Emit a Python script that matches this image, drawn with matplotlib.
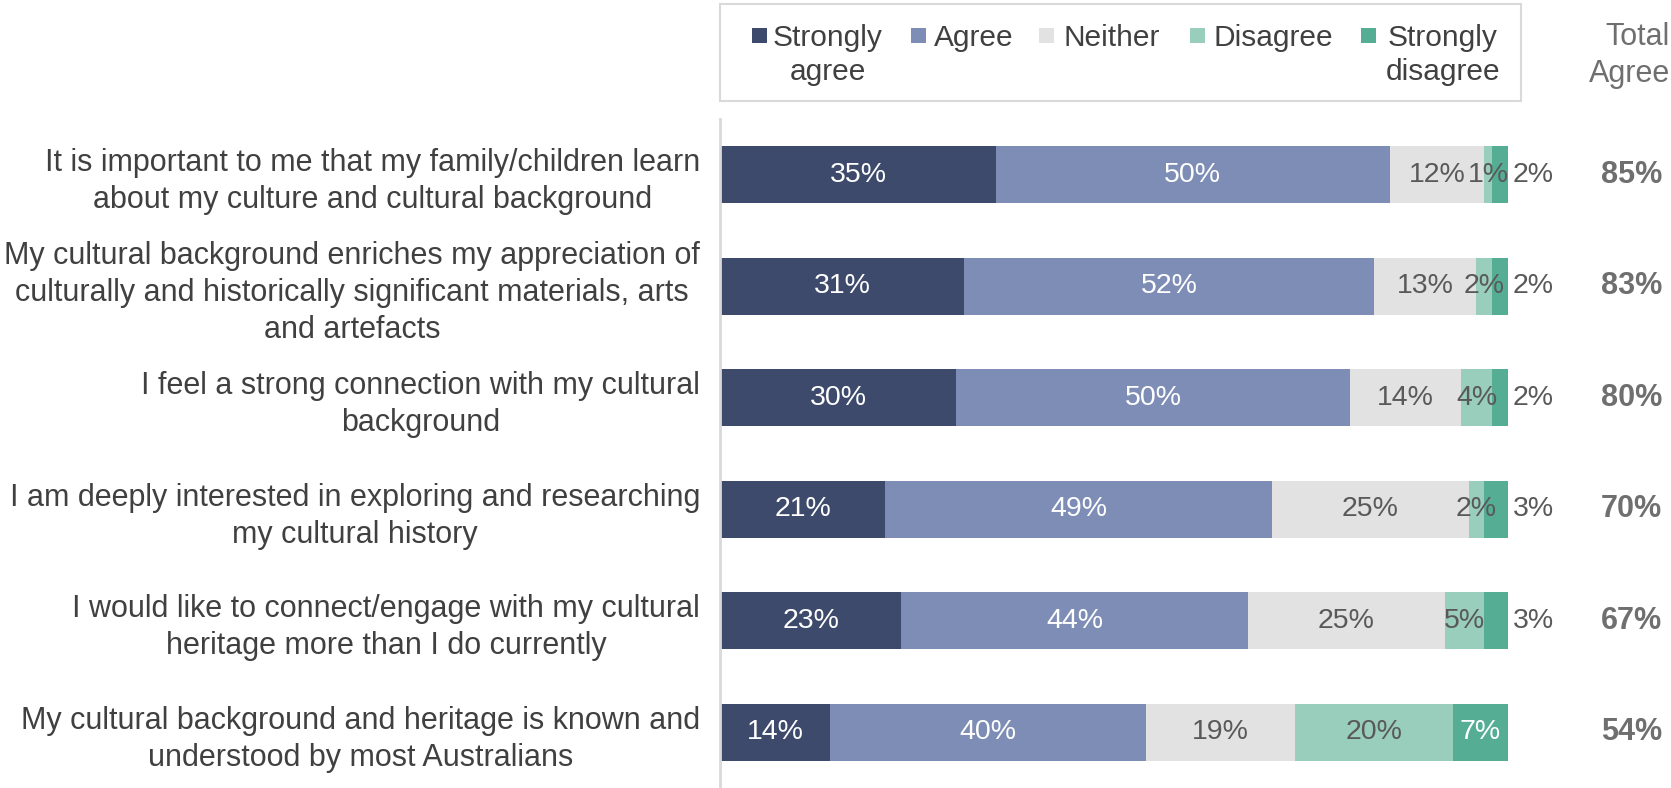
import numpy as np
import matplotlib
matplotlib.use("Agg")
import matplotlib.pyplot as plt
from matplotlib.patches import Rectangle
from matplotlib.transforms import blended_transform_factory

statements = [
    "It is important to me that my family/children learn\nabout my culture and cultural background",
    "My cultural background enriches my appreciation of\nculturally and historically significant materials, arts\nand artefacts",
    "I feel a strong connection with my cultural\nbackground",
    "I am deeply interested in exploring and researching\nmy cultural history",
    "I would like to connect/engage with my cultural\nheritage more than I do currently",
    "My cultural background and heritage is known and\nunderstood by most Australians",
]
categories = ["Strongly\nagree", "Agree", "Neither", "Disagree", "Strongly\ndisagree"]
strongly_agree = [35, 31, 30, 21, 23, 14]
agree = [50, 52, 50, 49, 44, 40]
neither = [12, 13, 14, 25, 25, 19]
disagree = [1, 2, 4, 2, 5, 20]
strongly_disagree = [2, 2, 2, 3, 3, 7]
total_agree = [85, 83, 80, 70, 67, 54]

colors = ["#3d4a6b", "#7d8db5", "#e2e2e2", "#99cdbc", "#55ae94"]
txt_colors = ["white", "white", "#595959", "#595959", "white"]

lab = ["Liberation Sans", "DejaVu Sans"]

W, H = 1671, 788
fig = plt.figure(figsize=(W / 100, H / 100), dpi=100)
ax = fig.add_axes([720 / W, 0, 788 / W, 1 - 119 / H])

series = [strongly_agree, agree, neither, disagree, strongly_disagree]
y = np.arange(len(statements))
left = np.zeros(len(statements))
for k, vals in enumerate(series):
    vals = np.array(vals, dtype=float)
    ax.barh(y, vals, left=left, height=0.515, color=colors[k], edgecolor="none")
    for i, v in enumerate(vals):
        if k == 4 and v <= 3:
            ax.text(100.6, y[i], "%d%%" % v, ha="left", va="center",
                    fontsize=20.5, color="#595959", family=lab)
        else:
            ax.text(left[i] + v / 2, y[i], "%d%%" % v, ha="center", va="center",
                    fontsize=20.5, color=txt_colors[k], family=lab)
    left += vals

ax.set_xlim(0, 100)
ax.set_ylim(5.5, -0.5)
ax.set_yticks(y)
ax.set_yticklabels(statements, family=lab, fontsize=22, color="#404040",
                   ha="right", multialignment="center", linespacing=1.3)
ax.tick_params(axis="y", length=0, pad=14.4)
ax.set_xticks([])
for s in ["top", "right", "bottom"]:
    ax.spines[s].set_visible(False)
ax.spines["left"].set_color("#d9d9d9")
ax.spines["left"].set_linewidth(2)

# total agree column
tr = blended_transform_factory(fig.transFigure, ax.transData)
for i, t in enumerate(total_agree):
    ax.text(1662 / W, y[i], "%d%%" % t, transform=tr,
            ha="right", va="center", fontsize=22, color="#6f6f6f", family=lab, fontweight="bold")
fig.text(1670 / W, 1 - 37 / H, "Total", ha="right", va="center", fontsize=22,
         color="#6f6f6f", family=lab)
fig.text(1670 / W, 1 - 74 / H, "Agree", ha="right", va="center", fontsize=22,
         color="#6f6f6f", family=lab)

# legend box
fig.patches.append(Rectangle((720 / W, 1 - 101 / H), 801 / W, 97 / H, transform=fig.transFigure,
                             facecolor="white", edgecolor="#d9d9d9", linewidth=1.5))
sq_x = [752, 911, 1039, 1190, 1361]
tx_x = [828, 934, 1064, 1213, 1443]
for k, cat in enumerate(categories):
    fig.patches.append(Rectangle((sq_x[k] / W, 1 - 43 / H), 15 / W, 15 / H, transform=fig.transFigure,
                                 facecolor=colors[k], edgecolor="none"))
    if "\n" in cat:
        fig.text(tx_x[k] / W, 1 - 55 / H, cat, ha="center", va="center", fontsize=21.5,
                 color="#404040", family=lab, multialignment="center", linespacing=1.3)
    else:
        fig.text(tx_x[k] / W, 1 - 38 / H, cat, ha="left", va="center", fontsize=21.5,
                 color="#404040", family=lab)

fig.savefig("out.png", dpi=100)
